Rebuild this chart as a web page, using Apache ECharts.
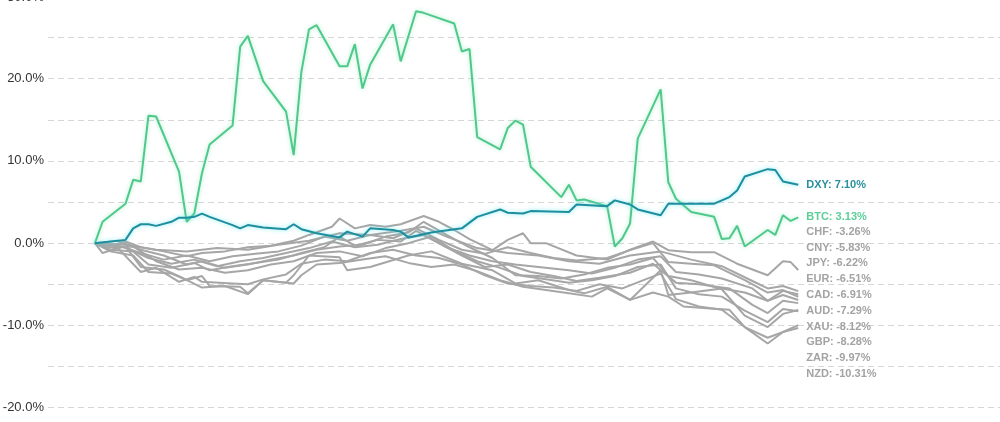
<!DOCTYPE html>
<html><head><meta charset="utf-8">
<script src="https://cdn.jsdelivr.net/npm/echarts@6/dist/echarts.min.js"></script>
<style>html,body{margin:0;padding:0;background:#fff}#c{width:1000px;height:422px}</style>
</head><body><div id="c"></div>
<script>
// [day index, % change]
const BTC = [[0,0],[1,2.6],[4,4.8],[5,7.7],[6,7.5],[7,15.5],[8,15.4],[11,8.7],[12,2.6],[13,3.6],[14,8.5],[15,12.0],[18,14.3],[19,23.9],[20,25.2],[22,19.7],[25,16.0],[26,10.7],[27,20.8],[28,26.0],[29,26.5],[32,21.5],[33,21.5],[34,24.2],[35,18.8],[36,21.7],[39,26.6],[40,22.1],[42,28.2],[43,28.0],[47,26.7],[48,23.3],[49,23.6],[50,12.9],[53,11.4],[54,14.0],[55,14.9],[56,14.4],[57,9.3],[61,5.6],[62,7.1],[63,5.2],[64,5.3],[67,4.5],[68,-0.4],[69,0.6],[70,2.4],[71,12.7],[74,18.7],[75,7.4],[76,5.4],[78,3.8],[81,3.2],[82,0.5],[83,0.6],[84,2.1],[85,-0.4],[88,1.6],[89,1.0],[90,3.4],[91,2.7],[92,3.13]];
const DXY = [[0,0],[4,0.4],[5,1.8],[6,2.3],[7,2.3],[8,2.1],[10,2.6],[11,3.1],[12,3.1],[13,3.2],[14,3.6],[15,3.2],[18,2.2],[19,1.8],[20,2.2],[22,1.9],[25,1.7],[26,2.3],[27,1.7],[29,1.2],[32,0.7],[33,1.4],[35,0.8],[36,1.8],[39,1.6],[40,1.4],[41,0.7],[44,1.3],[48,1.8],[50,3.2],[53,4.1],[54,3.7],[56,3.6],[57,3.9],[62,3.8],[63,4.7],[67,4.5],[68,5.2],[70,4.7],[71,4.1],[74,3.4],[75,4.8],[81,4.8],[83,5.6],[84,6.4],[85,8.1],[88,9.0],[89,8.9],[90,7.5],[92,7.10]];
const CHF = [[0,0],[2,-0.3],[4,0.2],[6,-0.5],[9,-1.0],[12,-1.6],[14,-1.2],[17,-1.0],[20,-0.5],[23,-0.3],[26,0.3],[28,1.0],[31,2.0],[32,3.0],[34,1.8],[36,2.2],[38,2.0],[40,2.3],[43,3.3],[45,2.6],[47,1.6],[49,0.5],[52,-0.85],[54,0.4],[56,1.2],[57,0],[59,0],[63,-1.5],[67,-2.0],[70,-0.8],[73,0.2],[75,-0.85],[78,-1.1],[81,-1.1],[84,-2.5],[88,-3.9],[90,-2.2],[91,-2.3],[92,-3.26]];
const CNY = [[0,0],[4,-0.2],[8,-0.8],[12,-1.0],[16,-0.6],[20,-0.8],[24,-0.2],[28,0.3],[32,1.2],[36,1.0],[40,1.5],[43,2.0],[46,0.8],[50,-0.6],[54,-1.2],[58,-1.5],[62,-2.2],[66,-2.5],[70,-1.5],[74,-1.0],[78,-2.0],[82,-2.8],[86,-4.6],[88,-5.5],[90,-5.2],[92,-5.83]];
const JPY = [[0,0],[2,-1.0],[5,-1.5],[7,-3.5],[10,-3.7],[12,-4.5],[14,-4.0],[15,-5.2],[19,-5.3],[20,-6.1],[22,-4.5],[25,-4.8],[26,-3.9],[28,-1.5],[32,-1.7],[33,-3.3],[36,-2.9],[41,-1.5],[44,-1.0],[48,-2.5],[52,-3.3],[55,-4.9],[58,-4.5],[62,-5.7],[64,-6.1],[67,-5.3],[70,-6.9],[74,-3.3],[75,-6.3],[78,-6.0],[82,-5.5],[85,-6.0],[88,-7.0],[90,-5.8],[92,-6.22]];
const EUR = [[0,0],[3,-0.3],[6,-1.2],[9,-2.0],[12,-1.5],[15,-2.2],[18,-1.6],[21,-1.3],[24,-1.0],[27,-0.3],[30,0.8],[33,0.3],[36,1.0],[39,0.6],[42,1.8],[45,0.4],[48,-0.8],[51,-1.3],[54,-0.5],[57,-1.2],[60,-1.8],[63,-2.1],[67,-1.8],[70,-0.85],[73,0.0],[75,-2.3],[78,-2.5],[81,-2.7],[85,-4.5],[88,-6.0],[90,-5.7],[92,-6.51]];
const CAD = [[0,0],[4,-0.5],[7,-1.8],[10,-2.5],[13,-2.0],[16,-2.8],[19,-2.2],[22,-1.8],[25,-1.2],[28,-0.6],[31,0.2],[34,-0.5],[37,-0.2],[40,0.5],[43,1.0],[46,-0.5],[49,-1.5],[52,-2.2],[55,-2.6],[58,-2.9],[62,-3.3],[65,-3.7],[68,-3.0],[71,-2.0],[74,-1.6],[76,-3.5],[79,-3.8],[82,-4.3],[86,-5.5],[88,-7.0],[90,-6.3],[92,-6.91]];
const AUD = [[0,0],[2,-0.8],[5,-1.0],[7,-2.6],[10,-3.0],[13,-2.4],[15,-3.3],[18,-2.8],[21,-2.4],[24,-2.0],[27,-1.2],[30,-0.5],[32,0.8],[34,-0.3],[37,0.4],[40,0.2],[42,1.5],[45,0.0],[48,-1.5],[51,-2.9],[54,-2.6],[57,-3.5],[60,-4.0],[63,-4.6],[66,-4.2],[70,-3.6],[73,-2.5],[76,-4.8],[79,-5.0],[83,-5.5],[86,-7.5],[88,-8.5],[90,-7.0],[92,-7.29]];
const XAU = [[0,0],[3,0.3],[6,-0.8],[9,-1.5],[12,-2.6],[14,-2.2],[17,-3.0],[20,-2.6],[23,-2.0],[26,-1.5],[29,-0.8],[32,-0.4],[35,-0.2],[38,0.8],[41,1.3],[43,2.6],[46,1.0],[49,-0.5],[52,-1.8],[55,-3.9],[58,-4.0],[61,-4.3],[64,-3.8],[67,-3.0],[70,-2.6],[73,-1.8],[75,-4.0],[78,-4.5],[82,-5.6],[85,-8.8],[88,-10.2],[90,-8.6],[92,-8.12]];
const GBP = [[0,0],[2,-0.5],[5,-0.4],[8,-2.2],[11,-3.2],[14,-3.0],[17,-3.6],[20,-3.3],[23,-2.6],[26,-2.2],[29,-1.2],[32,-1.0],[35,-1.6],[38,-0.6],[41,0.0],[44,0.8],[47,-0.9],[50,-2.2],[53,-3.0],[56,-4.0],[59,-4.4],[62,-4.8],[65,-4.5],[68,-4.0],[71,-2.9],[74,-2.6],[76,-5.5],[79,-6.2],[82,-6.5],[85,-8.2],[88,-9.6],[90,-8.0],[92,-8.28]];
const ZAR = [[0,0],[1,-1.2],[3,-0.6],[6,-3.5],[8,-3.0],[11,-4.7],[13,-4.1],[14,-4.7],[18,-4.9],[20,-5.0],[22,-4.4],[25,-3.8],[27,-2.5],[30,-2.0],[33,-2.2],[36,-1.2],[39,-0.8],[42,-1.5],[45,-1.8],[48,-2.6],[51,-3.9],[54,-4.9],[57,-5.2],[60,-5.4],[63,-5.8],[66,-5.0],[69,-5.5],[72,-4.4],[74,-3.7],[76,-6.8],[79,-7.7],[82,-8.1],[85,-10.2],[88,-11.5],[90,-10.8],[92,-9.97]];
const NZD = [[0,0],[2,-0.8],[4,-0.4],[6,-2.9],[9,-3.2],[11,-4.0],[14,-5.4],[17,-5.2],[20,-6.2],[22,-4.5],[26,-4.9],[27,-3.9],[29,-2.6],[32,-2.4],[35,-2.0],[38,-1.6],[41,-2.4],[44,-2.9],[47,-2.6],[50,-3.4],[53,-4.5],[56,-5.3],[59,-5.7],[62,-6.1],[65,-6.5],[67,-5.5],[70,-6.9],[73,-6.0],[75,-6.5],[77,-7.7],[80,-7.9],[83,-8.1],[85,-10.2],[88,-12.2],[90,-10.8],[92,-10.31]];

const grayNames = ['CHF','CNY','JPY','EUR','CAD','AUD','XAU','GBP','ZAR','NZD'];
const grayData = [CHF,CNY,JPY,EUR,CAD,AUD,XAU,GBP,ZAR,NZD];
const yTicks = [-20,-10,0,10,20,30];

const FONT = '"Liberation Sans", Arial, sans-serif';
const chart = echarts.init(document.getElementById('c'), null, {renderer:'canvas'});

const grayEnds = grayData.map(d => d[d.length-1][1]);
const LAST = 92;
const step = 7.655;
const Y_MAX = 30;

function grayLayout(p) {
  const si = p.seriesIndex;
  if (si >= grayNames.length) return {};
  const ys = grayEnds.map(v => chart.convertToPixel({yAxisIndex:0}, v));
  const mean = ys.reduce((a,b)=>a+b,0)/ys.length;
  const order = grayEnds.map((v,i)=>i).sort((a,b)=>grayEnds[b]-grayEnds[a]);
  const rank = order.indexOf(si);
  const target = mean + (rank - (ys.length-1)/2) * 15.8;
  return { y: target };
}

function mk(name, data, color, labelColor, width, z, glow) {
  return {
    name, type:'line', data, z,
    showSymbol:false, symbol:'none', animation:false, silent:true,
    lineStyle:{color, width, shadowColor: glow || 'transparent', shadowBlur: glow ? 4 : 0},
    endLabel:{show:true, distance:8, color:labelColor, fontFamily:FONT, fontSize:11, fontWeight:'bold',
      formatter: p => name + ': ' + p.value[1].toFixed(2) + '%'},
    labelLayout: grayLayout
  };
}

const series = grayNames.map((n,i)=>mk(n, grayData[i], '#a6a6a6', '#a3a3a3', 2, 2, null));
series.push(mk('BTC', BTC, '#4fc88b', '#5ccf98', 2, 3, 'rgba(120,230,170,0.6)'));
series.push(mk('DXY', DXY, '#1d8e9e', '#2a8e9f', 2, 4, 'rgba(80,230,240,0.7)'));

chart.setOption({
  backgroundColor:'#fff',
  animation:false,
  grid:{left:48, right:0, top:-3.6, bottom:-26.8, containLabel:false, outerBoundsMode:'none'},
  xAxis:{type:'value', min:-95/step + 48/step, max:LAST + 202/step, show:false,
    splitLine:{show:false}},
  yAxis:{type:'value', min:-25, max:Y_MAX, interval:5,
    axisLine:{show:false}, axisTick:{show:false},
    axisLabel:{color:'#333', fontFamily:FONT, fontSize:13, margin:4,
      formatter: v => (yTicks.includes(v) && v !== Y_MAX) ? v.toFixed(1) + '%' : ''},
    splitLine:{show:true, lineStyle:{color:'#d6d6d6', type:[6,4], width:1}}},
  series
});

// top tick label sits partly outside the canvas; draw it as text at the axis position
chart.setOption({
  graphic:[{type:'text', silent:true, z:100, x:44, y:chart.convertToPixel({yAxisIndex:0}, Y_MAX) + 1.5,
    style:{text: Y_MAX.toFixed(1) + '%', align:'right', verticalAlign:'middle',
      fill:'#333', fontFamily:FONT, fontSize:13}}]
});
</script></body></html>
